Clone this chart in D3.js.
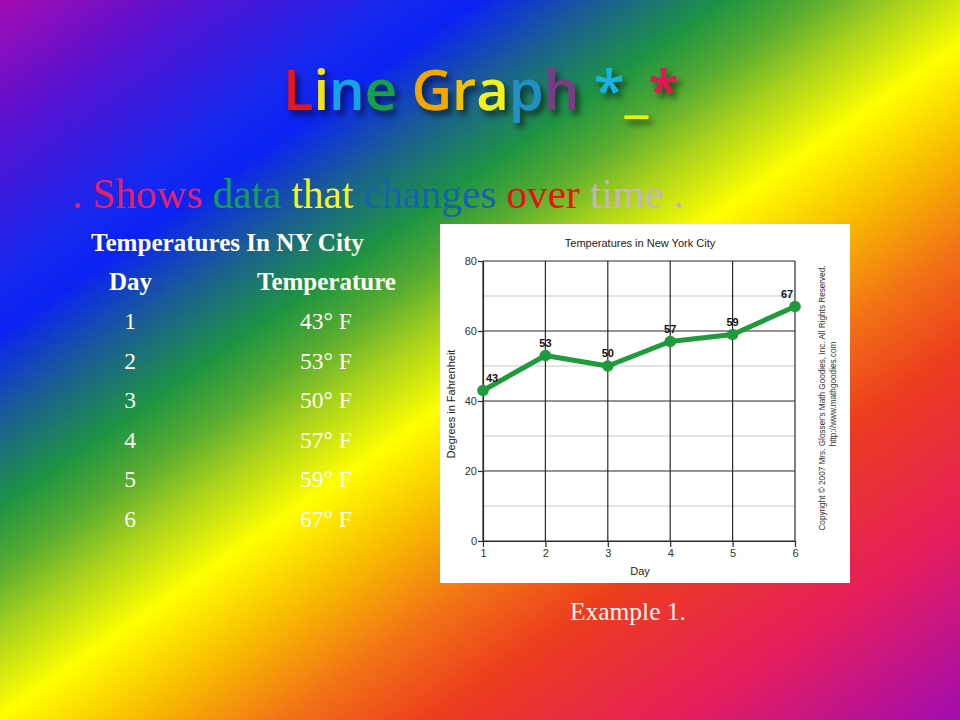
<!DOCTYPE html>
<html>
<head>
<meta charset="utf-8">
<script src="https://cdn.jsdelivr.net/npm/d3@7"></script>
<style>
  html, body { margin: 0; padding: 0; background: #fff; }
  svg { display: block; }
</style>
</head>
<body>
<script>
// ---------- data ----------
const days = [1, 2, 3, 4, 5, 6];
const temps = [43, 53, 50, 57, 59, 67];
const yTicks = [0, 20, 40, 60, 80];
const yMinorTicks = [10, 30, 50, 70];
const titleChars = ["L", "i", "n", "e", " ", "G", "r", "a", "p", "h", " ", "*", "_", "*"];
const titleColors = ["#e81414", "#f2e21e", "#14a2e4", "#14a046", "#000", "#f2a600", "#f2c200", "#f2f022", "#2090c4", "#7a3a84", "#000", "#14b4e6", "#f2f000", "#e41452"];
const subtitleWords = [". Shows", "data", "that", "changes", "over", "time ."];
const subtitleColors = ["#e4206c", "#12a24e", "#f4f426", "#1462b0", "#e81212", "#c4b4c4"];
const tableTitle = "Temperatures In NY City";
const tableHeaders = ["Day", "Temperature"];
const chartTitle = "Temperatures in New York City";
const xLabel = "Day";
const yLabel = "Degrees in Fahrenheit";
const copyright1 = "Copyright \u00A9 2007 Mrs. Glosser's Math Goodies, Inc. All Rights Reserved.";
const copyright2 = "http://www.mathgoodies.com";
const caption = "Example 1.";

const W = 960, H = 720;
const svg = d3.select("body").append("svg").attr("width", W).attr("height", H);
const defs = svg.append("defs");

// ---------- background gradient ----------
const grad = defs.append("linearGradient").attr("id", "bg")
  .attr("gradientUnits", "userSpaceOnUse")
  .attr("x1", 0).attr("y1", 0).attr("x2", 653).attr("y2", 934);
[
  [0.00, "#a40cb2"], [0.10, "#5412d2"], [0.20, "#1628ee"], [0.24, "#0a22f2"],
  [0.30, "#1a5c96"], [0.365, "#1e9442"], [0.41, "#58ac30"], [0.455, "#a8d21c"],
  [0.515, "#ffff00"], [0.585, "#f8bc00"], [0.66, "#f27216"], [0.735, "#ec3c1e"],
  [0.86, "#e61e5c"], [1.00, "#a20cb2"]
].forEach(([o, c]) => grad.append("stop").attr("offset", o).attr("stop-color", c));
svg.append("rect").attr("width", W).attr("height", H).attr("fill", "url(#bg)");

// shadow filter for title
const f = defs.append("filter").attr("id", "shadow").attr("x", "-10%").attr("y", "-30%").attr("width", "130%").attr("height", "170%");
f.append("feDropShadow").attr("dx", 4).attr("dy", 5).attr("stdDeviation", 3)
  .attr("flood-color", "#000").attr("flood-opacity", 0.6);

function fitWidth(sel, target) {
  const base = parseFloat(sel.attr("font-size"));
  const w = sel.node().getComputedTextLength();
  sel.attr("font-size", base * target / w);
}

// ---------- title ----------
const title = svg.append("text")
  .attr("x", 283).attr("y", 110)
  .attr("font-family", "'Open Sans', 'DejaVu Sans', sans-serif")
  .attr("font-weight", 600)
  .attr("font-size", 54)
  .attr("filter", "url(#shadow)")
  .style("white-space", "pre");
titleChars.forEach((c, i) => title.append("tspan").text(c).attr("fill", titleColors[i]));
fitWidth(title, 396);

// ---------- subtitle ----------
const sub = svg.append("text")
  .attr("x", 72).attr("y", 208)
  .attr("font-family", "'Liberation Serif', 'DejaVu Serif', serif")
  .attr("font-size", 34)
  .style("white-space", "pre");
subtitleWords.forEach((w, i) => sub.append("tspan").text((i ? " " : "") + w).attr("fill", subtitleColors[i]));
fitWidth(sub, 612);

// ---------- table ----------
const serif = "'Liberation Serif', 'DejaVu Serif', serif";
const tt = svg.append("text").attr("x", 91).attr("y", 251)
  .attr("font-family", serif).attr("font-weight", "bold").attr("font-size", 22)
  .attr("fill", "#fffdf0").text(tableTitle);
fitWidth(tt, 273);
const h1 = svg.append("text").attr("x", 109).attr("y", 290)
  .attr("font-family", serif).attr("font-weight", "bold").attr("font-size", 22)
  .attr("fill", "#fffdf0").text(tableHeaders[0]);
fitWidth(h1, 43);
const h2 = svg.append("text").attr("x", 257).attr("y", 290)
  .attr("font-family", serif).attr("font-weight", "bold").attr("font-size", 22)
  .attr("fill", "#fffdf0").text(tableHeaders[1]);
fitWidth(h2, 139);

const rowY = d3.scaleLinear().domain([1, 6]).range([329, 527]);
const rows = svg.append("g").attr("font-family", serif).attr("font-size", 23.5).attr("fill", "#fffdf0");
rows.selectAll("text.day").data(days).join("text").attr("class", "day")
  .attr("x", 130).attr("y", d => rowY(d)).attr("text-anchor", "middle").text(d => d);
rows.selectAll("text.temp").data(temps).join("text").attr("class", "temp")
  .attr("x", 326).attr("y", (d, i) => rowY(days[i])).attr("text-anchor", "middle")
  .text(d => `${d}\u00B0 F`);

// ---------- chart panel ----------
svg.append("rect").attr("x", 440).attr("y", 224).attr("width", 410).attr("height", 359).attr("fill", "#fff");

const x = d3.scaleLinear().domain([1, 6]).range([483, 795]);
const y = d3.scaleLinear().domain([0, 80]).range([541, 261]);
const g = svg.append("g").attr("font-family", "'Liberation Sans', Arial, sans-serif");

// minor grid
g.selectAll("line.minor").data(yMinorTicks).join("line").attr("class", "minor")
  .attr("x1", x(1)).attr("x2", x(6)).attr("y1", d => y(d)).attr("y2", d => y(d))
  .attr("stroke", "#c8c8c8").attr("stroke-width", 1);
// major horizontal grid
g.selectAll("line.major").data(yTicks).join("line").attr("class", "major")
  .attr("x1", x(1)).attr("x2", x(6)).attr("y1", d => y(d)).attr("y2", d => y(d))
  .attr("stroke", "#2a2a2a").attr("stroke-width", 1.2);
// vertical grid
g.selectAll("line.vert").data(days).join("line").attr("class", "vert")
  .attr("x1", d => x(d)).attr("x2", d => x(d)).attr("y1", y(80)).attr("y2", y(0))
  .attr("stroke", "#2a2a2a").attr("stroke-width", 1.2);

// axes
const yAxis = g.append("g").attr("transform", `translate(${x(1)},0)`)
  .call(d3.axisLeft(y).tickValues(yTicks).tickFormat(d3.format("d")).tickSize(5).tickSizeOuter(0));
const xAxis = g.append("g").attr("transform", `translate(0,${y(0)})`)
  .call(d3.axisBottom(x).tickValues(days).tickFormat(d3.format("d")).tickSize(6).tickSizeOuter(0));
[yAxis, xAxis].forEach(a => {
  a.select(".domain").attr("stroke", "#2a2a2a").attr("stroke-width", 1.2);
  a.selectAll(".tick line").attr("stroke", "#2a2a2a").attr("stroke-width", 1.2);
  a.selectAll(".tick text").attr("fill", "#333").attr("font-size", 11).attr("font-family", "'Liberation Sans', Arial, sans-serif");
});
yAxis.selectAll(".tick text").attr("x", -6);
xAxis.selectAll(".tick text").attr("y", 8);

// titles
g.append("text").attr("x", 640).attr("y", 247).attr("text-anchor", "middle")
  .attr("font-size", 11).attr("fill", "#222").text(chartTitle);
g.append("text").attr("x", 640).attr("y", 575).attr("text-anchor", "middle")
  .attr("font-size", 11).attr("fill", "#222").text(xLabel);
g.append("text").attr("transform", "translate(455,404) rotate(-90)").attr("text-anchor", "middle")
  .attr("font-size", 11).attr("fill", "#222").text(yLabel);
g.append("text").attr("transform", "translate(825,398) rotate(-90)").attr("text-anchor", "middle")
  .attr("font-size", 8.2).attr("fill", "#333").text(copyright1);
g.append("text").attr("transform", "translate(836,394) rotate(-90)").attr("text-anchor", "middle")
  .attr("font-size", 8.2).attr("fill", "#333").text(copyright2);

// line + points
const pts = days.map((d, i) => [d, temps[i]]);
g.append("path").datum(pts)
  .attr("d", d3.line().x(d => x(d[0])).y(d => y(d[1])))
  .attr("fill", "none").attr("stroke", "#1f9a3c").attr("stroke-width", 5).attr("stroke-linejoin", "round");
g.selectAll("circle.pt").data(pts).join("circle").attr("class", "pt")
  .attr("cx", d => x(d[0])).attr("cy", d => y(d[1])).attr("r", 5.8).attr("fill", "#1f9a3c");
g.selectAll("text.lbl").data(pts).join("text").attr("class", "lbl")
  .attr("x", (d, i) => x(d[0]) + (i === 0 ? 9 : i === pts.length - 1 ? -8 : 0))
  .attr("y", d => y(d[1]) - 9)
  .attr("text-anchor", "middle").attr("font-size", 11).attr("font-weight", "bold").attr("fill", "#111")
  .text(d => d[1]);

// caption
const cap = svg.append("text").attr("x", 570).attr("y", 620)
  .attr("font-family", serif).attr("font-size", 22).attr("fill", "#fff6ee").text(caption);
fitWidth(cap, 116);
</script>
</body>
</html>
